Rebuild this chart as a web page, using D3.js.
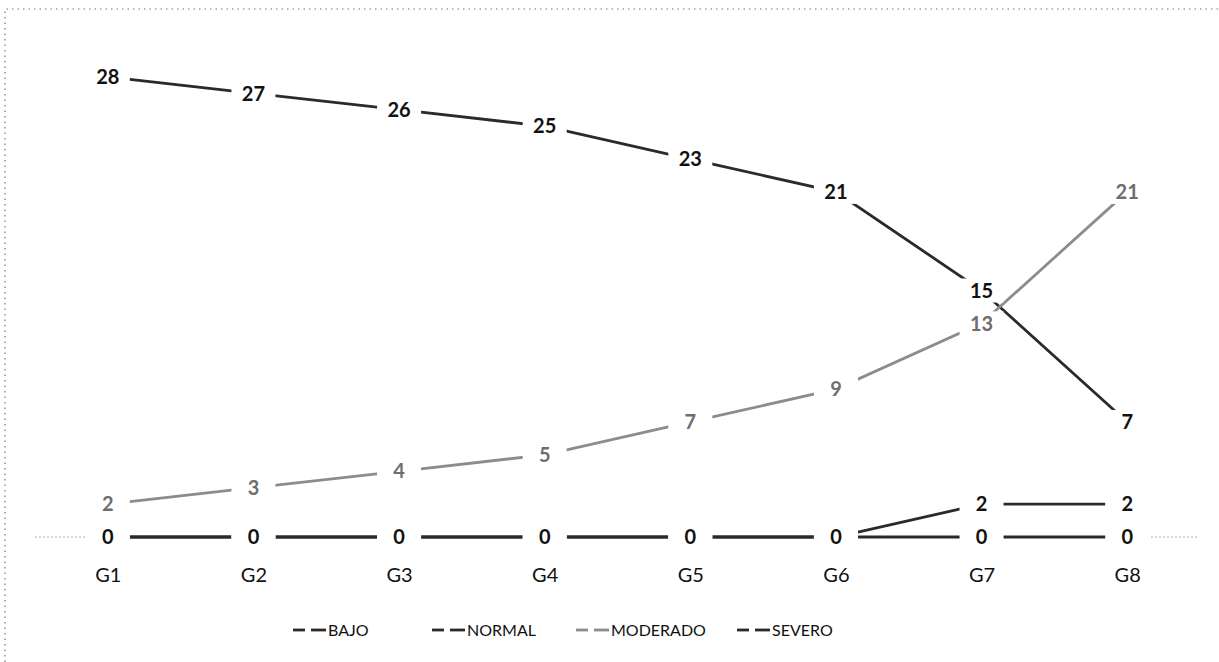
<!DOCTYPE html>
<html>
<head>
<meta charset="utf-8">
<script src="https://cdn.jsdelivr.net/npm/d3@7"></script>
<style>
  html, body { margin: 0; padding: 0; background: #fff; }
  svg { display: block; }
</style>
</head>
<body>
<svg id="chart" width="1219" height="662"></svg>
<script>
const categories = ["G1", "G2", "G3", "G4", "G5", "G6", "G7", "G8"];
const bajo     = [0, 0, 0, 0, 0, 0, 0, 0];
const normal   = [28, 27, 26, 25, 23, 21, 15, 7];
const moderado = [2, 3, 4, 5, 7, 9, 13, 21];
const severo   = [0, 0, 0, 0, 0, 0, 2, 2];
const seriesNames = ["BAJO", "NORMAL", "MODERADO", "SEVERO"];

const series = [
  { name: seriesNames[0], values: bajo,     color: "#2a2a2a", label: "#111" },
  { name: seriesNames[1], values: normal,   color: "#2a2a2a", label: "#111" },
  { name: seriesNames[2], values: moderado, color: "#8c8c8c", label: "#6e6e6e" },
  { name: seriesNames[3], values: severo,   color: "#2a2a2a", label: "#111" }
];

const svg = d3.select("#chart");
const font = "Lato, 'Open Sans', sans-serif";

// chart border (dotted)
svg.append("path")
  .attr("d", "M5,662 L5,9 L1219,9")
  .attr("fill", "none")
  .attr("stroke", "#777")
  .attr("stroke-width", 1.2)
  .attr("stroke-dasharray", "1.5,4");

const x = d3.scalePoint().domain(categories).range([35, 1200]).padding(0.5);
const y = d3.scaleLinear().domain([0, 30]).range([537, 44]);

// category axis line
svg.append("line")
  .attr("x1", 35).attr("x2", 1198)
  .attr("y1", y(0)).attr("y2", y(0))
  .attr("stroke", "#aaa")
  .attr("stroke-width", 1)
  .attr("stroke-dasharray", "2,2");

// category labels
const xAxis = d3.axisBottom(x).tickSize(0).tickPadding(0);
const gx = svg.append("g").attr("transform", `translate(0,${y(0) + 38})`).call(xAxis);
gx.select(".domain").remove();
gx.selectAll("text")
  .attr("font-family", font)
  .attr("font-size", 20)
  .attr("fill", "#111")
  .attr("dy", "0.35em");

// lines
const line = d3.line().x((d, i) => x(categories[i])).y(d => y(d));
series.forEach(s => {
  svg.append("path")
    .datum(s.values)
    .attr("d", line)
    .attr("fill", "none")
    .attr("stroke", s.color)
    .attr("stroke-width", 2.8);
});

// data labels with white background boxes
series.forEach(s => {
  const g = svg.append("g");
  s.values.forEach((v, i) => {
    const cx = x(categories[i]), cy = y(v);
    g.append("rect")
      .attr("x", cx - 22).attr("y", cy - 12)
      .attr("width", 44).attr("height", 24)
      .attr("fill", "#fff");
    g.append("text")
      .attr("x", cx).attr("y", cy)
      .attr("text-anchor", "middle")
      .attr("dy", "0.36em")
      .attr("font-family", font)
      .attr("font-weight", "bold")
      .attr("font-size", 20)
      .attr("fill", s.label)
      .text(v);
  });
});

// legend
const legendItems = [
  { s: series[0], x: 293 },
  { s: series[1], x: 432 },
  { s: series[2], x: 576 },
  { s: series[3], x: 737 }
];
const ly = 630;
legendItems.forEach(item => {
  const g = svg.append("g").attr("transform", `translate(${item.x},${ly})`);
  g.append("line").attr("x1", 0).attr("x2", 12).attr("y1", 0).attr("y2", 0)
    .attr("stroke", item.s.color).attr("stroke-width", 2.8);
  g.append("line").attr("x1", 18).attr("x2", 33).attr("y1", 0).attr("y2", 0)
    .attr("stroke", item.s.color).attr("stroke-width", 2.8);
  g.append("text")
    .attr("x", 35).attr("y", 0).attr("dy", "0.35em")
    .attr("font-family", font)
    .attr("font-size", 16)
    .attr("fill", "#111")
    .text(item.s.name);
});
</script>
</body>
</html>
